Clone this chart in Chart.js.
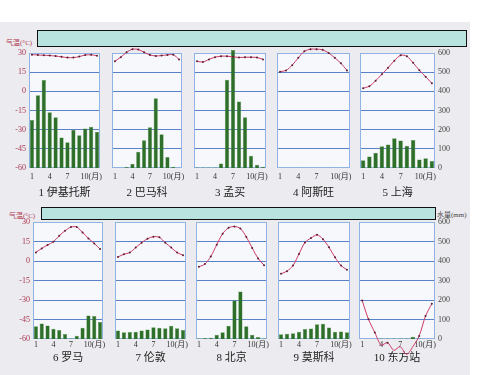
<!DOCTYPE html>
<html>
<head>
<meta charset="utf-8">
<script src="https://cdn.jsdelivr.net/npm/chart.js@4.4.1/dist/chart.umd.min.js"></script>
<style>
html, body { margin: 0; padding: 0; background: #fff; }
#stage { position: relative; width: 500px; height: 375px; overflow: hidden; }
#photo { position: absolute; left: 0; top: 22px; width: 470px; height: 353px; background: #ececf0; }
canvas { position: absolute; }
.band { position: absolute; background: #b8e3de; border: 1.5px solid #111; box-sizing: border-box; z-index: 5; }
.axname { position: absolute; font-family: "Liberation Serif", "Noto Sans CJK SC", serif; font-size: 7px; white-space: nowrap; }
</style>
</head>
<body>
<div id="stage">
  <div id="photo"></div>
  <div class="band" style="left:37px;top:30px;width:430px;height:17px"></div>
  <div class="band" style="left:41px;top:207px;width:395px;height:13px"></div>
  <div class="axname" style="left:6px;top:37px;color:#b03a55">气温(°C)</div>
  <div class="axname" style="left:9px;top:210px;color:#b03a55">气温(°C)</div>
  <div class="axname" style="left:437px;top:209px;color:#444">水量(mm)</div>
</div>
<script>
// month categories and tick labels
const MONTHS = ['1', '2', '3', '4', '5', '6', '7', '8', '9', '10', '11', '12'];
const X_TICK_LABELS = ['1', '', '', '4', '', '', '7', '', '', '10(月)', '', ''];
const TEMP_MIN = -60, TEMP_MAX = 30, TEMP_STEP = 15;
const RAIN_MIN = 0, RAIN_MAX = 600, RAIN_STEP = 100;

const CITY_NAMES = ['1 伊基托斯', '2 巴马科', '3 孟买', '4 阿斯旺', '5 上海',
                    '6 罗马', '7 伦敦', '8 北京', '9 莫斯科', '10 东方站'];

// monthly mean temperature (°C)
const tempIquitos  = [28.7, 28.5, 28.2, 28, 27.6, 27, 26.4, 26.4, 27.2, 28.4, 28.6, 27.9];
const tempBamako   = [23.6, 26.7, 30.5, 33, 32.8, 30.5, 28.5, 27.7, 28, 28.5, 28.7, 24.9];
const tempMumbai   = [23.5, 23, 25, 26.7, 27.5, 27.5, 27, 26.5, 26.7, 26.7, 26.5, 25];
const tempAswan    = [15.4, 16.4, 20.5, 26.2, 31.3, 33, 33, 32.5, 30, 26.2, 22, 16.4];
const tempShanghai = [2.4, 4, 8.3, 13.4, 18.5, 24, 28.2, 27.4, 22.3, 16.5, 11.4, 6.3];
const tempRome     = [6.6, 9.7, 12.3, 14.8, 19.4, 23.3, 26.1, 26.1, 22, 17.4, 13.5, 9.2];
const tempLondon   = [3.1, 5.2, 6.5, 10.3, 14.1, 17.2, 18.7, 18.2, 14.1, 10.3, 6.5, 4.4];
const tempBeijing  = [-4.4, -2.4, 3.5, 12.5, 21, 25.5, 26.5, 25, 18.5, 10, 2, -3.2];
const tempMoscow   = [-9.8, -7.8, -3.5, 5.4, 14.3, 17.6, 20.1, 16.8, 10.5, 2.8, -3.5, -6.8];
const tempVostok   = [-30.4, -44.9, -55, -64.6, -62.8, -68.7, -65.9, -71.8, -65.9, -57.7, -42.4, -32.9];

// monthly precipitation (mm)
const rainIquitos  = [250, 379, 459, 291, 265, 159, 134, 199, 171, 206, 215, 189];
const rainBamako   = [0, 0, 5, 22, 85, 145, 212, 364, 176, 58, 7, 0];
const rainMumbai   = [2, 2, 2, 2, 23, 461, 616, 347, 265, 64, 17, 7];
const rainAswan    = [0, 0, 0, 1, 0, 0, 0, 0, 0, 1, 0, 0];
const rainShanghai = [41, 60, 80, 114, 122, 155, 143, 116, 146, 44, 51, 37];
const rainRome     = [65, 79, 69, 53, 46, 26, 3, 17, 58, 120, 118, 87];
const rainLondon   = [43, 34, 36, 37, 43, 49, 60, 58, 55, 68, 55, 46];
const rainBeijing  = [3, 5, 6, 22, 34, 68, 197, 243, 65, 22, 10, 3];
const rainMoscow   = [24, 27, 30, 37, 51, 54, 76, 78, 59, 37, 39, 35];
const rainVostok   = [0, 0, 1, 2, 2, 2, 2, 3, 12, 2, 1, 0];

const TEMPS = [tempIquitos, tempBamako, tempMumbai, tempAswan, tempShanghai,
               tempRome, tempLondon, tempBeijing, tempMoscow, tempVostok];
const RAINS = [rainIquitos, rainBamako, rainMumbai, rainAswan, rainShanghai,
               rainRome, rainLondon, rainBeijing, rainMoscow, rainVostok];

// plot area of each panel on the page
const PANELS = [
    { l: 29,  t: 53,  w: 71, h: 115, row: 0 },
    { l: 112, t: 53,  w: 70, h: 115, row: 0 },
    { l: 194, t: 53,  w: 72, h: 115, row: 0 },
    { l: 277, t: 53,  w: 73, h: 115, row: 0 },
    { l: 360, t: 53,  w: 75, h: 115, row: 0 },
    { l: 33,  t: 222, w: 70, h: 117, row: 1 },
    { l: 115, t: 222, w: 71, h: 117, row: 1 },
    { l: 196, t: 222, w: 71, h: 117, row: 1 },
    { l: 278, t: 222, w: 72, h: 117, row: 1 },
    { l: 359, t: 222, w: 76, h: 117, row: 1 }
];

const PAD = 4, PAD_TOP = 10, AXIS_W = 30;
const X_AXIS_H = [32, 26];
const X_TICK_PAD = [-4, -7];
const SERIF = "'Liberation Serif', 'Noto Sans CJK SC', serif";

const framePlugin = {
    id: 'frame',
    beforeDraw(chart) {
        const { ctx, chartArea: a } = chart;
        ctx.save();
        ctx.fillStyle = '#f7f8fb';
        ctx.fillRect(a.left, a.top, a.width, a.height);
        ctx.restore();
    },
    beforeDatasetsDraw(chart) {
        const { ctx, chartArea: a } = chart;
        ctx.save();
        ctx.strokeStyle = '#8fb4e3';
        ctx.lineWidth = 1;
        ctx.strokeRect(a.left + 0.5, a.top + 0.5, a.width - 1, a.height - 1);
        ctx.restore();
    }
};

function makePanel(i) {
    const p = PANELS[i];
    const hasLeft = (i === 0 || i === 5);
    const hasRight = (i === 4 || i === 9);
    const leftW = hasLeft ? AXIS_W : 0;
    const rightW = hasRight ? AXIS_W : 0;
    const xH = X_AXIS_H[p.row];

    const canvas = document.createElement('canvas');
    const cw = p.w + leftW + rightW + 2 * PAD;
    const ch = PAD_TOP + p.h + xH;
    canvas.width = cw;
    canvas.height = ch;
    canvas.style.left = (p.l - leftW - PAD) + 'px';
    canvas.style.top = (p.t - PAD_TOP) + 'px';
    canvas.style.width = cw + 'px';
    canvas.style.height = ch + 'px';
    document.getElementById('stage').appendChild(canvas);

    new Chart(canvas.getContext('2d'), {
        type: 'bar',
        data: {
            labels: MONTHS,
            datasets: [{
                type: 'line',
                data: TEMPS[i],
                yAxisID: 'y',
                order: 0,
                borderColor: '#cc3a66',
                borderWidth: 1,
                pointRadius: 1,
                pointBackgroundColor: '#5a2030',
                pointBorderWidth: 0,
                tension: 0.3,
                clip: false
            }, {
                type: 'bar',
                data: RAINS[i],
                yAxisID: 'y2',
                order: 1,
                backgroundColor: '#2f6f2c',
                borderColor: '#5c9a4c',
                borderWidth: 0.5,
                categoryPercentage: 1,
                barPercentage: 0.72,
                clip: false
            }]
        },
        options: {
            responsive: false,
            animation: false,
            devicePixelRatio: 1,
            layout: { padding: { left: PAD, right: PAD, top: PAD_TOP, bottom: 0 } },
            plugins: { legend: { display: false }, tooltip: { enabled: false } },
            scales: {
                x: {
                    grid: { display: false },
                    border: { display: false },
                    ticks: {
                        autoSkip: false,
                        maxRotation: 0,
                        padding: X_TICK_PAD[p.row],
                        color: '#333',
                        font: { family: SERIF, size: 8 },
                        callback: (v, idx) => {
                            const s = X_TICK_LABELS[idx];
                            return s.startsWith('10') ? '\u2007\u2007\u2007' + s : s;
                        }
                    },
                    title: {
                        display: true,
                        text: CITY_NAMES[i],
                        color: '#222',
                        font: { family: SERIF, size: 11 },
                        padding: { top: 0, bottom: 0 }
                    },
                    afterFit: s => { s.height = xH; }
                },
                y: {
                    position: 'left',
                    min: TEMP_MIN,
                    max: TEMP_MAX,
                    border: { display: false },
                    grid: {
                        drawTicks: false,
                        lineWidth: 1,
                        color: ctx => (ctx.tick && (ctx.tick.value === TEMP_MIN || ctx.tick.value === TEMP_MAX)) ? 'rgba(0,0,0,0)' : '#5a82c8'
                    },
                    ticks: {
                        display: hasLeft,
                        stepSize: TEMP_STEP,
                        padding: 3,
                        color: '#a8344f',
                        font: { family: SERIF, size: 8 }
                    },
                    afterFit: s => { s.width = leftW; }
                },
                y2: {
                    position: 'right',
                    display: hasRight,
                    min: RAIN_MIN,
                    max: RAIN_MAX,
                    border: { display: false },
                    grid: { display: false, drawTicks: false },
                    ticks: {
                        stepSize: RAIN_STEP,
                        padding: 3,
                        color: '#444',
                        font: { family: SERIF, size: 8 }
                    },
                    afterFit: s => { s.width = rightW; }
                }
            }
        },
        plugins: [framePlugin]
    });
}

for (let i = 0; i < PANELS.length; i++) {
    makePanel(i);
}
</script>
</body>
</html>
